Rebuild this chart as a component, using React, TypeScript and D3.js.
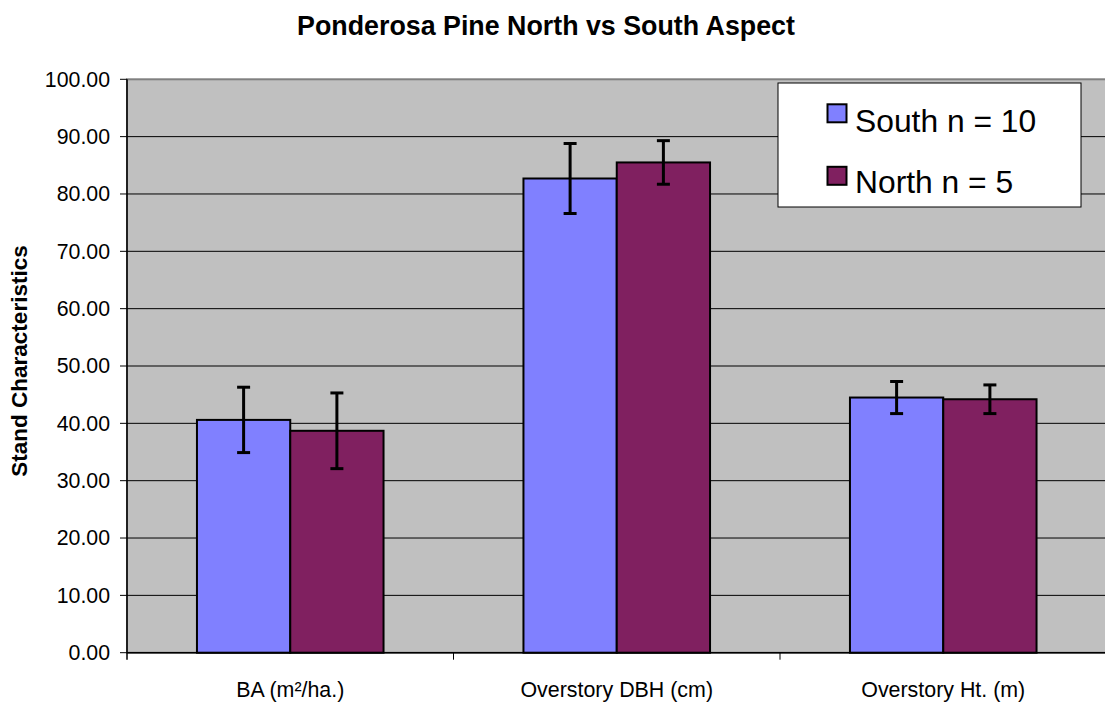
import React from "react";
import * as d3 from "d3";

const categories = ["BA (m²/ha.)", "Overstory DBH (cm)", "Overstory Ht. (m)"];
const seriesNames = ["South n = 10", "North n = 5"];
const southValues = [40.6, 82.7, 44.5];
const northValues = [38.7, 85.5, 44.2];
const southErr = [5.7, 6.1, 2.8];
const northErr = [6.6, 3.8, 2.5];
const yTicks = [0, 10, 20, 30, 40, 50, 60, 70, 80, 90, 100];
const colors = ["#8080FF", "#802060"];

const W = 1105;
const H = 702;
const margin = { left: 127, top: 79.3, right: 1106.5, bottom: 652.7 };

export default function App() {
  const x0 = d3
    .scaleBand<string>()
    .domain(categories)
    .range([margin.left, margin.right])
    .paddingInner(0)
    .paddingOuter(0);
  const catW = x0.bandwidth();
  const barW = catW / 3.5;
  const y = d3.scaleLinear().domain([0, 100]).range([margin.bottom, margin.top]);
  const series = [
    { name: seriesNames[0], values: southValues, err: southErr, color: colors[0] },
    { name: seriesNames[1], values: northValues, err: northErr, color: colors[1] },
  ];
  const font = "Arial, 'Liberation Sans', sans-serif";
  return (
    <svg
      width={W}
      height={H}
      style={{ position: "absolute", left: 0, top: 0, background: "#fff" }}
      fontFamily={font}
    >
      <text x={546} y={35} textAnchor="middle" fontSize={26.8} fontWeight="bold">
        Ponderosa Pine North vs South Aspect
      </text>
      <rect
        x={margin.left}
        y={margin.top}
        width={margin.right - margin.left}
        height={margin.bottom - margin.top}
        fill="#C0C0C0"
        stroke="#808080"
        strokeWidth={2}
      />
      {yTicks.map((t) => (
        <g key={t}>
          {t > 0 && t < 100 && (
            <line x1={margin.left} x2={margin.right} y1={y(t)} y2={y(t)} stroke="#000" strokeWidth={1} />
          )}
          <line x1={margin.left - 7} x2={margin.left} y1={y(t)} y2={y(t)} stroke="#000" strokeWidth={1} />
          <text x={110} y={y(t)} dy="0.35em" textAnchor="end" fontSize={21.3}>
            {t.toFixed(2)}
          </text>
        </g>
      ))}
      {series.map((s, si) =>
        categories.map((c, ci) => {
          const bx = (x0(c) as number) + (catW * 0.75) / 3.5 + si * barW;
          const cx = bx + barW / 2;
          const v = s.values[ci];
          const e = s.err[ci];
          return (
            <g key={`${si}-${ci}`}>
              <rect
                x={bx}
                y={y(v)}
                width={barW}
                height={y(0) - y(v)}
                fill={s.color}
                stroke="#000"
                strokeWidth={2}
              />
              <line x1={cx} x2={cx} y1={y(v + e)} y2={y(v - e)} stroke="#000" strokeWidth={3} />
              <line x1={cx - 6.5} x2={cx + 6.5} y1={y(v + e)} y2={y(v + e)} stroke="#000" strokeWidth={3} />
              <line x1={cx - 6.5} x2={cx + 6.5} y1={y(v - e)} y2={y(v - e)} stroke="#000" strokeWidth={3} />
            </g>
          );
        })
      )}
      <line x1={margin.left} x2={margin.left} y1={margin.top} y2={margin.bottom + 7} stroke="#000" strokeWidth={1.5} />
      <line x1={margin.left} x2={margin.right} y1={margin.bottom} y2={margin.bottom} stroke="#000" strokeWidth={1.5} />
      {categories.map((c, ci) => (
        <g key={c}>
          {ci > 0 && (
            <line
              x1={x0(c) as number}
              x2={x0(c) as number}
              y1={margin.bottom}
              y2={margin.bottom + 7}
              stroke="#000"
              strokeWidth={1}
            />
          )}
          <text x={(x0(c) as number) + catW / 2} y={697} textAnchor="middle" fontSize={21.4}>
            {c}
          </text>
        </g>
      ))}
      <text
        transform={`translate(27, 361) rotate(-90)`}
        textAnchor="middle"
        fontSize={22.5}
        fontWeight="bold"
      >
        Stand Characteristics
      </text>
      <rect x={778} y={83} width={303} height={124} fill="#fff" stroke="#000" strokeWidth={1} />
      {series.map((s, si) => (
        <g key={s.name}>
          <rect
            x={827.5}
            y={104.3 + si * 62.5}
            width={19}
            height={18}
            fill={s.color}
            stroke="#000"
            strokeWidth={2}
          />
          <text x={855} y={131.5 + si * 61.8} fontSize={31.8}>
            {s.name}
          </text>
        </g>
      ))}
    </svg>
  );
}
